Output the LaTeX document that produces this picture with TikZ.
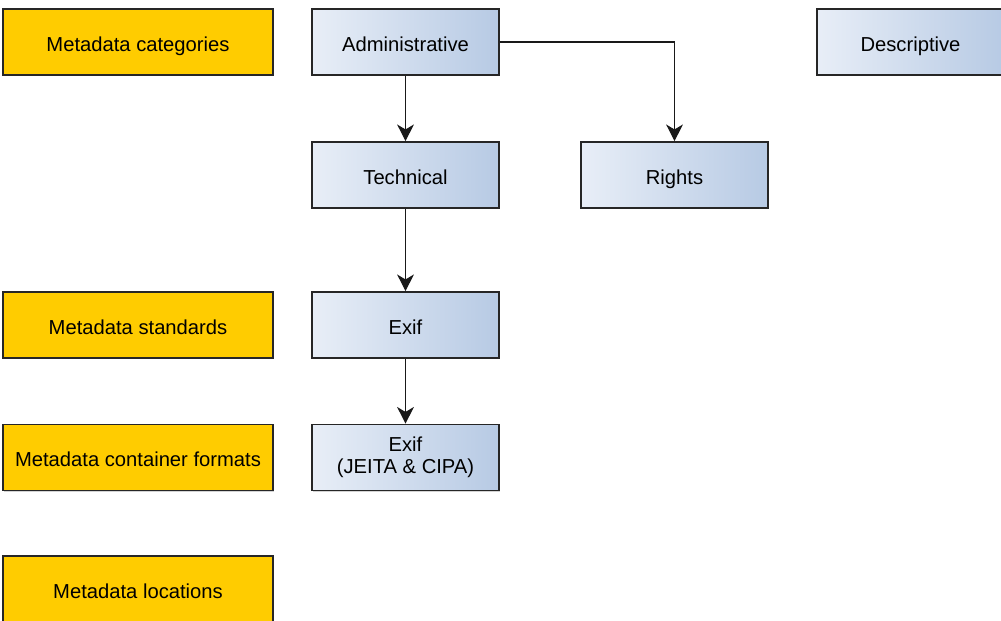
\documentclass[tikz,border=0pt]{standalone}
\usepackage{fontspec}
\setmainfont{Liberation Sans}
\usepackage{tikz}
\usetikzlibrary{arrows.meta,shadows}
\definecolor{layeryellow}{RGB}{255,204,0}
\definecolor{boxleft}{RGB}{232,238,247}
\definecolor{boxright}{RGB}{183,202,228}
\tikzstyle{layer}=[shape=rectangle,draw=black!85,line width=0.9pt,fill=layeryellow,
    minimum width=5.4cm,minimum height=1.32cm,font=\fontsize{11.5}{12.6}\selectfont,
    text height=10.6pt,text depth=0.3pt,
    drop shadow={shadow xshift=0.6pt,shadow yshift=-0.6pt,opacity=0.35}]
\tikzstyle{meta}=[shape=rectangle,draw=black!85,line width=0.9pt,left color=boxleft,right color=boxright,
    minimum width=3.74cm,minimum height=1.32cm,font=\fontsize{11.5}{12.6}\selectfont,
    text height=10.6pt,text depth=0.3pt,
    drop shadow={shadow xshift=0.6pt,shadow yshift=-0.6pt,opacity=0.35}]
\tikzstyle{link}=[-{Stealth[length=9.5pt,width=9.5pt,inset=2.8pt]},line width=0.7pt,black!90]
\tikzstyle{backlink}=[{Stealth[length=9.5pt,width=9.5pt,inset=2.8pt]}-,line width=0.7pt,black!90]

\begin{document}
\begin{tikzpicture}[x=0.02cm,y=-0.02cm]
\useasboundingbox (0,0) rectangle (1001,621);
% layers
\node[layer] (cat) at (138,42) {Metadata categories};
\node[layer] (std) at (138,325) {Metadata standards};
\node[layer] (fmt) at (138,457.5) {Metadata container formats};
\node[layer] (loc) at (138,589) {Metadata locations};
% metadata
\node[meta] (admin) at (405.5,42) {Administrative};
\node[meta] (desc) at (910.5,42) {Descriptive};
\node[meta] (tech) at (405.5,175) {Technical}
    edge [backlink] (admin);
\node[meta] (rights) at (674.5,175) {Rights};
\node[meta] (exif) at (405.5,325) {Exif}
    edge [backlink] (tech);
\node[meta,align=center,text height={},text depth={}] (jeita) at (405.5,457.5) {Exif\\(JEITA \& CIPA)}
    edge [backlink] (exif);
\draw[link] (admin.east) -| (rights.north);
\end{tikzpicture}
\end{document}
